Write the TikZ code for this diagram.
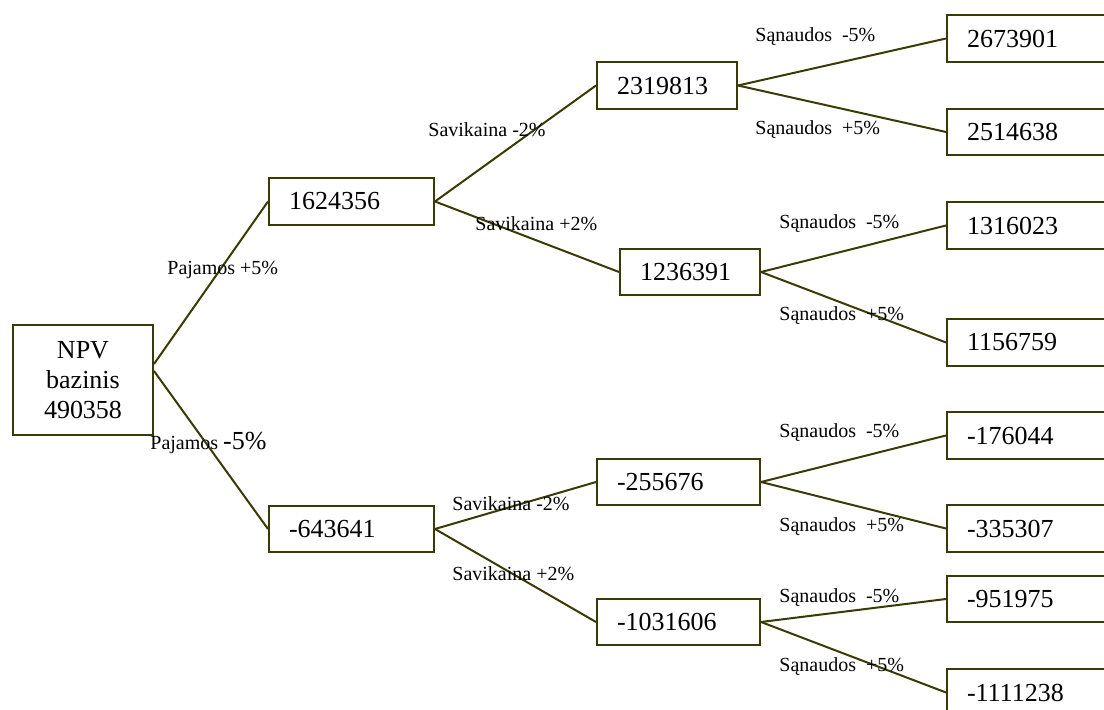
\documentclass[tikz,border=0pt]{standalone}
\usepackage{fontspec}
\setmainfont{Liberation Serif}
\definecolor{linecol}{HTML}{3A3A05}
\begin{document}
\begin{tikzpicture}[x=0.5pt,y=-0.5pt,
  conn/.style={draw=linecol,line width=1pt},
  numbox/.style={draw=linecol,line width=1pt,anchor=north west,inner ysep=0pt,inner xsep=10pt,
    align=left,font=\fontsize{13}{15}\selectfont},
  rbox/.style={numbox,minimum width=100pt,text width=80pt},
  lab/.style={anchor=west,inner sep=0pt,font=\fontsize{10}{12}\selectfont}]
\useasboundingbox (0,0) rectangle (1104,710);
% root
\node[draw=linecol,line width=1pt,anchor=north west,minimum width=70pt,minimum height=55pt,
  inner sep=0pt,align=center,font=\fontsize{13}{15}\selectfont] (npv) at (12,324) {NPV\\bazinis\\490358};
% level 1
\node[numbox,minimum width=82.5pt,minimum height=23.5pt,text width=62.5pt] (a1) at (268,177) {1624356};
\node[numbox,minimum width=82.5pt,minimum height=23pt,text width=62.5pt] (a2) at (268,505) {-643641};
% level 2
\node[numbox,minimum width=70pt,minimum height=23.5pt,text width=50pt] (b1) at (596,61) {2319813};
\node[numbox,minimum width=70pt,minimum height=23pt,text width=50pt] (b2) at (619,248) {1236391};
\node[numbox,minimum width=81.5pt,minimum height=23pt,text width=61.5pt] (b3) at (596,458) {-255676};
\node[numbox,minimum width=81.5pt,minimum height=23pt,text width=61.5pt] (b4) at (596,598) {-1031606};
% level 3 (boxes run past the right edge of the picture)
\node[rbox,minimum height=23.5pt] (c1) at (946,14) {2673901};
\node[rbox,minimum height=23pt] (c2) at (946,108) {2514638};
\node[rbox,minimum height=23.5pt] (c3) at (946,201) {1316023};
\node[rbox,minimum height=23.5pt] (c4) at (946,318) {1156759};
\node[rbox,minimum height=23.5pt] (c5) at (946,411) {-176044};
\node[rbox,minimum height=23.5pt] (c6) at (946,504) {-335307};
\node[rbox,minimum height=23pt] (c7) at (946,575) {-951975};
\node[rbox,minimum height=23.5pt] (c8) at (946,668) {-1111238};
% connectors
\draw[conn] ([yshift=8pt]npv.east) -- (a1.west);
\draw[conn] ([yshift=4.5pt]npv.east) -- (a2.west);
\draw[conn] (a1.east) -- (b1.west);
\draw[conn] (a1.east) -- (b2.west);
\draw[conn] (a2.east) -- (b3.west);
\draw[conn] (a2.east) -- (b4.west);
\draw[conn] (b1.east) -- (c1.west);
\draw[conn] (b1.east) -- (c2.west);
\draw[conn] (b2.east) -- (c3.west);
\draw[conn] (b2.east) -- (c4.west);
\draw[conn] (b3.east) -- (c5.west);
\draw[conn] (b3.east) -- (c6.west);
\draw[conn] (b4.east) -- (c7.west);
\draw[conn] (b4.east) -- (c8.west);
% labels
\node[lab] (l1) at (167,270) {Pajamos +5\%};
\node[lab] (l2) at (150,443) {Pajamos {\fontsize{13}{15}\selectfont -5\%}};
\node[lab] (l3) at (428,130) {Savikaina -2\%};
\node[lab] (l4) at (475,224) {Savikaina +2\%};
\node[lab] (l5) at (452,504) {Savikaina -2\%};
\node[lab] (l6) at (452,574) {Savikaina +2\%};
\node[lab] (l7) at (755,37) {Sąnaudos\ \ -5\%};
\node[lab] (l8) at (755,130) {Sąnaudos\ \ +5\%};
\node[lab] (l9) at (779,224) {Sąnaudos\ \ -5\%};
\node[lab] (l10) at (779,316) {Sąnaudos\ \ +5\%};
\node[lab] (l11) at (779,433) {Sąnaudos\ \ -5\%};
\node[lab] (l12) at (779,527) {Sąnaudos\ \ +5\%};
\node[lab] (l13) at (779,598) {Sąnaudos\ \ -5\%};
\node[lab] (l14) at (779,667) {Sąnaudos\ \ +5\%};
\end{tikzpicture}
\end{document}
